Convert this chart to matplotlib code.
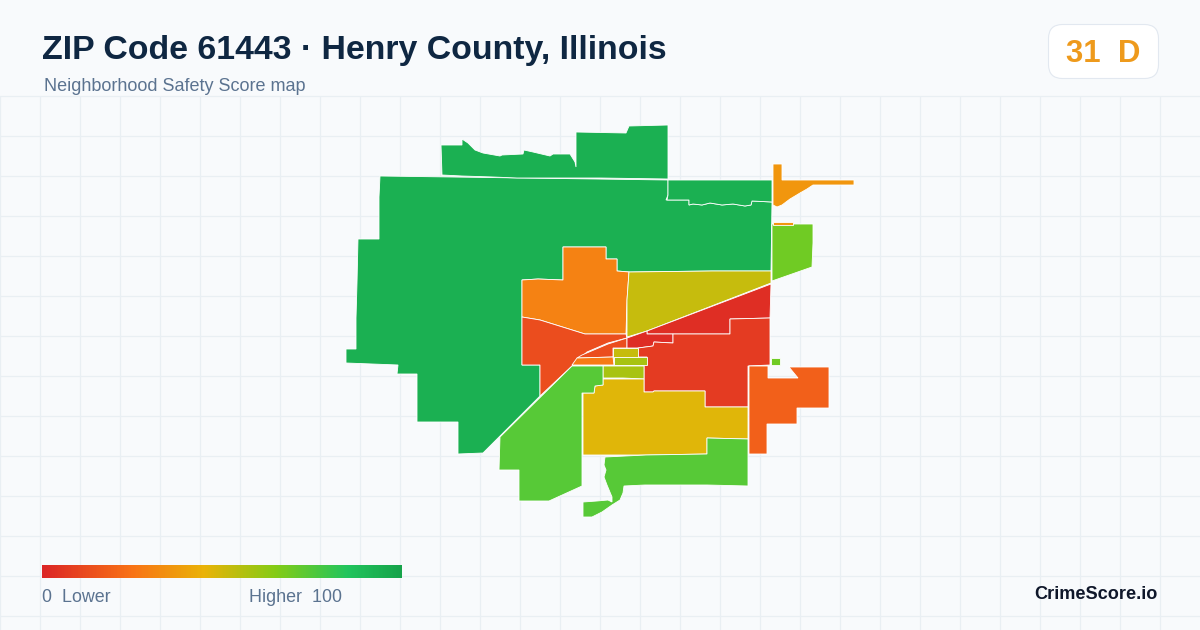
import numpy as np
import matplotlib
matplotlib.use('Agg')
import matplotlib.pyplot as plt
from matplotlib.colors import LinearSegmentedColormap
from matplotlib.patches import Polygon, FancyBboxPatch

plt.rcParams['font.family'] = ['Liberation Sans', 'DejaVu Sans']

TITLE = "ZIP Code 61443 · Henry County, Illinois"
SUBTITLE = "Neighborhood Safety Score map"
SCORE_TEXT = "31  D"
BRAND = "CrimeScore.io"

# legend colour ramp
ramp_pos = [0, 0.25, 0.45, 0.65, 0.85, 1]
ramp_colors = ['#dc2626', '#f97316', '#eab308', '#84cc16', '#22c55e', '#16a34a']

# block group outlines in pixels
main_green = [(380,176),(668,180),(668,195),(666,200),(689,200),(689,205),(693,204),(702,205),(710,203),
              (722,205),(733,204),(745,206),(751,205),(752,201),(772,202),(771,271),(712,271),(630,272),
              (617,271),(617,259),(606,259),(606,247),(563,247),(563,280),(538,279),(522,280),(522,365),
              (540,365),(540,396),(483,453),(458,454),(458,422),(417,422),(417,374),(397,374),(398,365),
              (372,364),(346,363),(346,349),(356,349),(356,318),(357,283),(358,239),(379,239),(379,197)]
north_strip = [(441,145),(462,145),(462,139),(468,143),(475,150),(483,153),(500,156),(502,155),(523,154),
               (524,150),(533,152),(550,156),(553,154),(570,154),(575,162),(576,167),(576,132),(626,133),
               (629,126),(668,125),(668,179),(600,178),(517,178),(493,177),(462,176),(442,175)]
ne_green = [(668,180),(772,180),(772,202),(752,201),(751,205),(745,206),(733,204),(722,205),(710,203),
            (702,205),(693,204),(689,205),(689,200),(667,200),(668,195)]
nw_orange = [(563,247),(606,247),(606,259),(617,259),(617,271),(629,272),(627,300),(626,334),(585,334),
             (540,320),(522,317),(522,280),(538,279),(563,280)]
west_red = [(522,317),(540,320),(585,334),(626,334),(627,338),(608,343),(587,352),(580,358),(572,366),
            (540,396),(540,365),(522,365)]
curve_strip = [(627,338),(627,348),(613,348),(613,357),(577,358),(582,355),(608,344)]
orange_strip = [(577,358),(613,357),(614,365),(572,365)]
olive_center = [(629,272),(712,271),(771,271),(771,283),(647,331),(627,337),(627,300)]
ne_red = [(771,284),(770,318),(730,319),(730,334),(647,334),(647,331)]
dark_red = [(627,338),(647,331),(647,334),(673,334),(673,343),(654,342),(653,346),(638,348),(627,348)]
big_red = [(730,319),(770,318),(770,365),(748,366),(748,407),(705,407),(705,391),(654,391),(653,392),
           (644,392),(644,365),(647,365),(647,357),(638,357),(638,348),(653,346),(654,342),(673,343),
           (673,334),(730,334)]
tiny_a = [(613,348),(638,348),(638,357),(613,357)]
tiny_b = [(614,357),(647,357),(647,365),(614,365)]
tiny_c = [(603,366),(644,366),(644,379),(623,378),(603,378)]
big_yellow = [(583,393),(594,393),(595,386),(603,385),(603,379),(644,379),(644,392),(653,392),(654,391),
              (705,391),(705,407),(748,407),(748,439),(707,438),(707,454),(646,455),(583,455)]
sw_green = [(572,366),(603,366),(603,385),(595,386),(594,393),(582,393),(582,486),(549,501),(519,501),
            (519,470),(499,470),(500,437)]
south_green = [(605,457),(646,455),(707,454),(707,438),(748,439),(748,486),(707,485),(645,485),(624,486),
               (623,493),(620,500),(612,505),(602,512),(592,517),(583,517),(583,502),(597,501),(608,500),
               (612,502),(612,497),(607,485),(604,477),(606,470),(604,465)]
se_orange = [(749,366),(768,366),(768,378),(798,378),(789,367),(829,367),(829,408),(797,408),(797,424),
             (767,424),(767,454),(749,454)]
small_square = [(771,358),(780,358),(780,365),(771,365)]
east_green = [(772,224),(813,224),(813,243),(812,267),(772,281),(772,248)]
sliver = [(773,221.5),(793,221.5),(793,224.5),(773,224.5)]
ne_orange = [(773,164),(782,164),(782,180),(854,180),(854,185),(813,185),(807,189),(800,193),(790,199),
             (782,205),(777,207),(773,205)]

regions = [main_green, north_strip, ne_green, nw_orange, west_red, curve_strip, orange_strip, olive_center,
           ne_red, dark_red, big_red, tiny_a, tiny_b, tiny_c, big_yellow, sw_green, south_green, se_orange,
           small_square, east_green, sliver, ne_orange]
scores = [94, 94, 94, 30, 12.5, 12.5, 27, 52, 3, 2, 7, 52, 58, 58, 47, 74, 74, 19, 69, 69, 36, 36]

cmap = LinearSegmentedColormap.from_list('safety', list(zip(ramp_pos, ramp_colors)))

fig = plt.figure(figsize=(12, 6.3), dpi=100, facecolor='#f8fafc')
ax = fig.add_axes([0, 0, 1, 1])
ax.set_xlim(0, 1200)
ax.set_ylim(630, 0)
ax.axis('off')

# background grid, only below the header
for x in np.arange(0, 1200, 40):
    ax.plot([x, x], [96.5, 630], color='#e9eff3', lw=0.9, zorder=1)
for y in np.arange(96, 630, 40):
    ax.plot([0, 1200], [y, y], color='#e9eff3', lw=0.9, zorder=1)

for outline, score in zip(regions, scores):
    ax.add_patch(Polygon(outline, closed=True, facecolor=cmap(score / 100), edgecolor='white',
                         lw=0.6, joinstyle='miter', zorder=2))

ax.text(42, 59, TITLE, fontsize=24.4, fontweight='bold', color='#0f2742', va='baseline', zorder=5)
ax.text(44, 91, SUBTITLE, fontsize=12.95, color='#5b7390', va='baseline', zorder=5)

ax.add_patch(FancyBboxPatch((1048.5, 24.5), 110, 54, boxstyle='round,pad=0,rounding_size=14',
                            facecolor='white', edgecolor='#e2e8f0', lw=0.8, zorder=4))
ax.text(1103, 62, SCORE_TEXT, fontsize=22.4, fontweight='bold', color='#ee9a1c', ha='center', va='baseline', zorder=5)

# legend
ax.imshow(np.linspace(0, 1, 360).reshape(1, -1), cmap=cmap, vmin=0, vmax=1, aspect='auto',
          extent=(42, 402, 578, 565), zorder=3)
ax.set_xlim(0, 1200)
ax.set_ylim(630, 0)
ax.text(42, 602, "0  Lower", fontsize=12.9, color='#5b7390', va='baseline', zorder=5)
ax.text(249, 602, "Higher  100", fontsize=12.9, color='#5b7390', va='baseline', zorder=5)
ax.text(1158, 599, BRAND, fontsize=13.1, fontweight='bold', color='#0f172a', ha='right', va='baseline', zorder=5)

fig.savefig('out.png', dpi=100, facecolor=fig.get_facecolor())
